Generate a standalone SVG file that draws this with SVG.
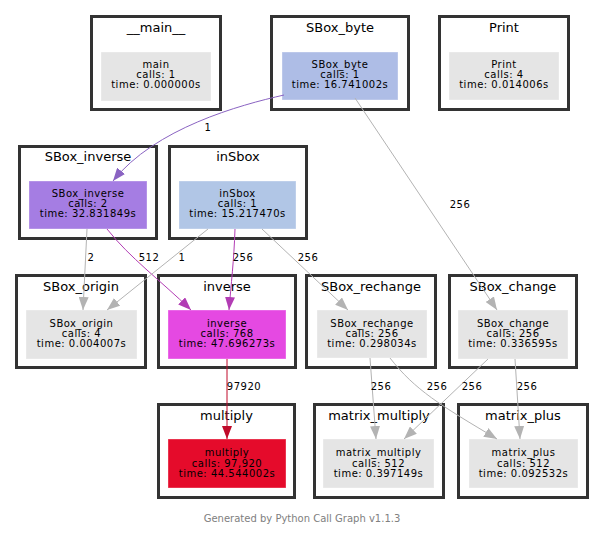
<svg xmlns="http://www.w3.org/2000/svg" width="605" height="536" viewBox="0 0 605 536">
  <style>
    .cluster rect.frame { fill: #ffffff; stroke: #333333; stroke-width: 3; }
    .cluster text.title { font-family: "DejaVu Sans", Verdana, sans-serif; font-size: 13px; fill: #000000; text-anchor: middle; }
    .node rect { stroke: #ffffff; stroke-opacity: 0.35; stroke-width: 1; }
    .node text { font-family: "DejaVu Sans", Verdana, sans-serif; font-size: 10px; letter-spacing: 0.5px; fill: #000000; text-anchor: middle; }
    .plain { fill: #e5e5e5; }
    .edge path { fill: none; stroke-width: 1; }
    .edge text { font-family: "DejaVu Sans", Verdana, sans-serif; font-size: 10px; letter-spacing: 0.5px; fill: #000000; text-anchor: middle; }
    .grey { stroke: #b3b3b3; }
    .purple { stroke: #8a63c2; stroke-width: 1.3; }
    .magenta { stroke: #b23cb4; stroke-width: 1.3; }
    .crimson { stroke: #c00a2a; stroke-width: 1.3; }
    .footer { font-family: "DejaVu Sans", Verdana, sans-serif; font-size: 10px; fill: #808080; text-anchor: middle; }
  </style>
  <defs>
    <marker id="ah-grey" markerUnits="userSpaceOnUse" markerWidth="13" markerHeight="10" refX="13" refY="5" orient="auto">
      <path d="M0,0 L13,5 L0,10 z" fill="#b3b3b3"/>
    </marker>
    <marker id="ah-purple" markerUnits="userSpaceOnUse" markerWidth="13" markerHeight="10" refX="13" refY="5" orient="auto">
      <path d="M0,0 L13,5 L0,10 z" fill="#8a63c2"/>
    </marker>
    <marker id="ah-magenta" markerUnits="userSpaceOnUse" markerWidth="13" markerHeight="10" refX="13" refY="5" orient="auto">
      <path d="M0,0 L13,5 L0,10 z" fill="#b23cb4"/>
    </marker>
    <marker id="ah-crimson" markerUnits="userSpaceOnUse" markerWidth="13" markerHeight="10" refX="13" refY="5" orient="auto">
      <path d="M0,0 L13,5 L0,10 z" fill="#c00a2a"/>
    </marker>
  </defs>

  <rect width="605" height="536" fill="#ffffff"/>

  <!-- module clusters with their function nodes -->
  <g id="cluster-main" class="cluster">
    <rect class="frame" x="91.5" y="16.5" width="129" height="93"/>
    <text class="title" x="156" y="32">__main__</text>
    <g id="node-main" class="node">
      <rect class="plain" x="101" y="52" width="110" height="49"/>
      <text x="156" y="68">main</text>
      <text x="156" y="78">calls: 1</text>
      <text x="156" y="88">time: 0.000000s</text>
    </g>
  </g>

  <g id="cluster-SBox_byte" class="cluster">
    <rect class="frame" x="271.5" y="16.5" width="137" height="93"/>
    <text class="title" x="340" y="32">SBox_byte</text>
    <g id="node-SBox_byte" class="node">
      <rect x="282" y="52" width="116" height="48" fill="#aebde6"/>
      <text x="340" y="68">SBox_byte</text>
      <text x="340" y="78">calls: 1</text>
      <text x="340" y="88">time: 16.741002s</text>
    </g>
  </g>

  <g id="cluster-Print" class="cluster">
    <rect class="frame" x="439.5" y="16.5" width="129" height="93"/>
    <text class="title" x="504" y="32">Print</text>
    <g id="node-Print" class="node">
      <rect class="plain" x="449" y="52" width="110" height="48"/>
      <text x="504" y="68">Print</text>
      <text x="504" y="78">calls: 4</text>
      <text x="504" y="88">time: 0.014006s</text>
    </g>
  </g>

  <g id="cluster-SBox_inverse" class="cluster">
    <rect class="frame" x="19.5" y="146.5" width="137" height="92"/>
    <text class="title" x="88" y="161">SBox_inverse</text>
    <g id="node-SBox_inverse" class="node">
      <rect x="29" y="181" width="118" height="48" fill="#a57de3"/>
      <text x="88" y="197">SBox_inverse</text>
      <text x="88" y="207">calls: 2</text>
      <text x="88" y="217">time: 32.831849s</text>
    </g>
  </g>

  <g id="cluster-inSbox" class="cluster">
    <rect class="frame" x="169.5" y="146.5" width="137" height="92"/>
    <text class="title" x="238" y="161">inSbox</text>
    <g id="node-inSbox" class="node">
      <rect x="179" y="181" width="117" height="48" fill="#b1c6e6"/>
      <text x="237.5" y="197">inSbox</text>
      <text x="237.5" y="207">calls: 1</text>
      <text x="237.5" y="217">time: 15.217470s</text>
    </g>
  </g>

  <g id="cluster-SBox_origin" class="cluster">
    <rect class="frame" x="16.5" y="275.5" width="129" height="92"/>
    <text class="title" x="81" y="291">SBox_origin</text>
    <g id="node-SBox_origin" class="node">
      <rect class="plain" x="26" y="310" width="111" height="49"/>
      <text x="81.5" y="326.5">SBox_origin</text>
      <text x="81.5" y="336.5">calls: 4</text>
      <text x="81.5" y="347">time: 0.004007s</text>
    </g>
  </g>

  <g id="cluster-inverse" class="cluster">
    <rect class="frame" x="158.5" y="275.5" width="137" height="92"/>
    <text class="title" x="227" y="291">inverse</text>
    <g id="node-inverse" class="node">
      <rect x="168" y="310" width="118" height="49" fill="#e549e2"/>
      <text x="227" y="326.5">inverse</text>
      <text x="227" y="336.5">calls: 768</text>
      <text x="227" y="347">time: 47.696273s</text>
    </g>
  </g>

  <g id="cluster-SBox_rechange" class="cluster">
    <rect class="frame" x="306.5" y="275.5" width="129" height="92"/>
    <text class="title" x="371" y="291">SBox_rechange</text>
    <g id="node-SBox_rechange" class="node">
      <rect class="plain" x="317" y="310" width="110" height="48"/>
      <text x="372" y="326.5">SBox_rechange</text>
      <text x="372" y="336.5">calls: 256</text>
      <text x="372" y="347">time: 0.298034s</text>
    </g>
  </g>

  <g id="cluster-SBox_change" class="cluster">
    <rect class="frame" x="449.5" y="275.5" width="127" height="92"/>
    <text class="title" x="513" y="291">SBox_change</text>
    <g id="node-SBox_change" class="node">
      <rect class="plain" x="458" y="310" width="110" height="49"/>
      <text x="513" y="326.5">SBox_change</text>
      <text x="513" y="336.5">calls: 256</text>
      <text x="513" y="347">time: 0.336595s</text>
    </g>
  </g>

  <g id="cluster-multiply" class="cluster">
    <rect class="frame" x="158.5" y="404.5" width="136" height="93"/>
    <text class="title" x="226.5" y="420">multiply</text>
    <g id="node-multiply" class="node">
      <rect x="168" y="439" width="118" height="49" fill="#e50b2b"/>
      <text x="227" y="456">multiply</text>
      <text x="227" y="466.5">calls: 97,920</text>
      <text x="227" y="477">time: 44.544002s</text>
    </g>
  </g>

  <g id="cluster-matrix_multiply" class="cluster">
    <rect class="frame" x="314.5" y="404.5" width="129" height="93"/>
    <text class="title" x="379" y="420">matrix_multiply</text>
    <g id="node-matrix_multiply" class="node">
      <rect class="plain" x="323" y="439" width="111" height="49"/>
      <text x="378.5" y="456">matrix_multiply</text>
      <text x="378.5" y="466.5">calls: 512</text>
      <text x="378.5" y="477">time: 0.397149s</text>
    </g>
  </g>

  <g id="cluster-matrix_plus" class="cluster">
    <rect class="frame" x="458.5" y="404.5" width="129" height="93"/>
    <text class="title" x="523" y="420">matrix_plus</text>
    <g id="node-matrix_plus" class="node">
      <rect class="plain" x="469" y="439" width="109" height="49"/>
      <text x="523.5" y="456">matrix_plus</text>
      <text x="523.5" y="466.5">calls: 512</text>
      <text x="523.5" y="477">time: 0.092532s</text>
    </g>
  </g>

  <!-- call edges, labelled with call counts -->
  <g id="edges">
    <g class="edge" id="e-byte-inverse">
      <path class="purple" d="M284,95 C240,105 155,128 113,181" marker-end="url(#ah-purple)"/>
      <text x="208" y="131">1</text>
    </g>
    <g class="edge" id="e-byte-change">
      <path class="grey" d="M355,98 L497,310" marker-end="url(#ah-grey)"/>
      <text x="460" y="208">256</text>
    </g>
    <g class="edge" id="e-sinv-origin">
      <path class="grey" d="M87,229 L83,310" marker-end="url(#ah-grey)"/>
      <text x="91" y="261">2</text>
    </g>
    <g class="edge" id="e-sinv-inverse">
      <path class="magenta" d="M107,229 C130,258 160,280 191,310" marker-end="url(#ah-magenta)"/>
      <text x="149" y="261">512</text>
    </g>
    <g class="edge" id="e-insbox-origin">
      <path class="grey" d="M208,229 L107,310" marker-end="url(#ah-grey)"/>
      <text x="182" y="261">1</text>
    </g>
    <g class="edge" id="e-insbox-inverse">
      <path class="magenta" d="M235,229 C234,260 231,285 229,310" marker-end="url(#ah-magenta)"/>
      <text x="243" y="261">256</text>
    </g>
    <g class="edge" id="e-insbox-rechange">
      <path class="grey" d="M262,229 L348,310" marker-end="url(#ah-grey)"/>
      <text x="308" y="261">256</text>
    </g>
    <g class="edge" id="e-inverse-multiply">
      <path class="crimson" d="M227,359 L227,439" marker-end="url(#ah-crimson)"/>
      <text x="244" y="390">97920</text>
    </g>
    <g class="edge" id="e-rechange-mmul">
      <path class="grey" d="M370,358 L376,439" marker-end="url(#ah-grey)"/>
      <text x="381" y="390">256</text>
    </g>
    <g class="edge" id="e-rechange-mplus">
      <path class="grey" d="M390,358 C415,390 440,405 497,439" marker-end="url(#ah-grey)"/>
      <text x="437" y="390">256</text>
    </g>
    <g class="edge" id="e-change-mmul">
      <path class="grey" d="M488,359 L404,439" marker-end="url(#ah-grey)"/>
      <text x="472" y="390">256</text>
    </g>
    <g class="edge" id="e-change-mplus">
      <path class="grey" d="M515,359 L520,439" marker-end="url(#ah-grey)"/>
      <text x="527" y="390">256</text>
    </g>
  </g>

  <text class="footer" x="302" y="522">Generated by Python Call Graph v1.1.3</text>
</svg>
